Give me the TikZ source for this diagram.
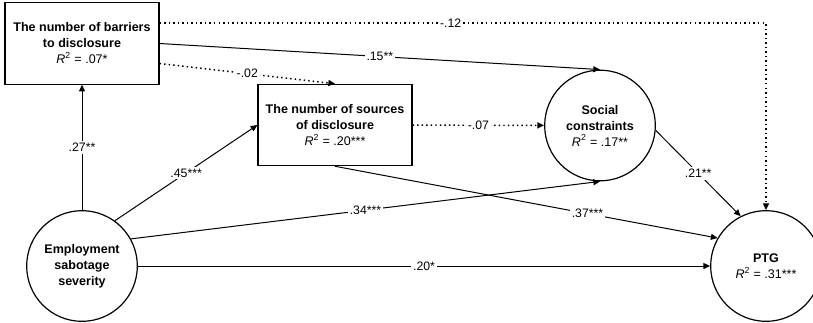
\documentclass[tikz,border=0pt]{standalone}
\usepackage{fontspec}
\setmainfont{Liberation Sans}
\usetikzlibrary{arrows.meta,positioning}

\begin{document}
\begin{tikzpicture}[x=0.75pt,y=-0.75pt,
    font=\fontsize{9.4}{12}\selectfont,
    varbox/.style={draw, line width=0.9pt, minimum width=115.5pt, minimum height=61pt, align=center, inner sep=2pt},
    varcirc/.style={draw, circle, line width=0.9pt, minimum size=83pt, align=center, inner sep=0pt},
    pathline/.style={-{Triangle[length=5pt,width=4.5pt]}, line width=0.75pt},
    nonsig/.style={pathline, line width=1.1pt, dash pattern=on 1.1pt off 2.3pt},
    coef/.style={fill=white, inner sep=1.5pt, font=\fontsize{9.2}{10}\selectfont}]
    \useasboundingbox (0,0) rectangle (813,322);

    % variables
    \node[varbox] (barr) at (82,43.5) {\textbf{The number of barriers}\\\textbf{to disclosure}\\\textit{R}\textsuperscript{2} = .07*};
    \node[varbox] (src) at (335,125) {\textbf{The number of sources}\\\textbf{of disclosure}\\\textit{R}\textsuperscript{2} = .20***};
    \node[varcirc] (soc) at (600,125.5) {\textbf{Social}\\\textbf{constraints}\\\textit{R}\textsuperscript{2} = .17**};
    \node[varcirc] (emp) at (82,266) {\textbf{Employment}\\\textbf{sabotage}\\\textbf{severity}};
    \node[varcirc] (ptg) at (766,266) {\textbf{PTG}\\\textit{R}\textsuperscript{2} = .31***};

    % paths
    \draw[pathline] (emp) -- node[coef] {.27**} (barr);
    \draw[pathline] (emp.54) -- node[coef] {.45***} (src.west);
    \draw[pathline] (emp.29) -- node[coef] {.34***} (soc.south);
    \draw[pathline] (emp) -- node[coef] {.20*} (ptg);
    \draw[pathline] (barr.east) -- node[coef] {.15**} (soc.north);
    \draw[nonsig] ([yshift=-15pt]barr.east) -- node[coef] {-.02} (src.north);
    \draw[nonsig] ([yshift=15.4pt]barr.east) -| node[coef,pos=0.24] {-.12} (ptg);
    \draw[nonsig] (src) -- node[coef] {-.07} (soc);
    \draw[pathline] (src.south) -- node[coef,pos=0.66] {.37***} (ptg.150);
    \draw[pathline] (soc.-5) -- node[coef] {.21**} (ptg.117);
\end{tikzpicture}
\end{document}
